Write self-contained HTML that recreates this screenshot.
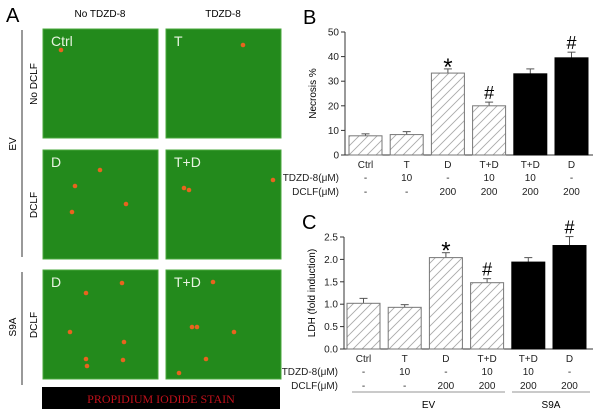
<!DOCTYPE html>
<html><head><meta charset="utf-8"><style>
body{margin:0;background:#fff;width:600px;height:415px;overflow:hidden;font-family:"Liberation Sans",sans-serif}
</style></head><body>
<svg id="fig" width="600" height="415" xmlns="http://www.w3.org/2000/svg" font-family="Liberation Sans, sans-serif">
<defs>
<pattern id="hatch" patternUnits="userSpaceOnUse" width="9" height="9" patternTransform="rotate(0)">
<rect width="9" height="9" fill="#fff"/><path d="M-1,10 L10,-1 M-3,3 L3,-3 M6,12 L12,6" stroke="#aaa" stroke-width="0.9"/>
</pattern>
</defs>
<g id="panelA">
<text x="6" y="22" font-size="20">A</text>
<text x="100" y="17" font-size="10" text-anchor="middle">No TDZD-8</text>
<text x="223" y="17" font-size="10" text-anchor="middle">TDZD-8</text>
<line x1="22" y1="30" x2="22" y2="257" stroke="#333"/>
<line x1="22" y1="272" x2="22" y2="385" stroke="#333"/>
<text transform="translate(16,144) rotate(-90)" font-size="10" text-anchor="middle">EV</text>
<text transform="translate(16,327) rotate(-90)" font-size="10" text-anchor="middle">S9A</text>
<text transform="translate(37,84) rotate(-90)" font-size="10" text-anchor="middle">No DCLF</text>
<text transform="translate(37,205) rotate(-90)" font-size="10" text-anchor="middle">DCLF</text>
<text transform="translate(37,325) rotate(-90)" font-size="10" text-anchor="middle">DCLF</text>
<rect x="42" y="387" width="238" height="22" fill="#000"/>
<text x="161" y="403" font-size="12" fill="#c0101a" text-anchor="middle" font-family="Liberation Serif, serif">PROPIDIUM IODIDE STAIN</text>
</g>
<g id="panelB"></g>
<g id="panelC"></g>
</svg>
<script>
const NS="http://www.w3.org/2000/svg";
function mk(p,t,a){const e=document.createElementNS(NS,t);for(const k in a)e.setAttribute(k,a[k]);p.appendChild(e);return e;}
// micrographs
const imgLabels=["Ctrl","T","D","T+D","D","T+D"];
const imgBoxes=[[43,29],[166,29],[43,150],[166,150],[43,270],[166,270]];
const dots=[[[18,21]],[[77,16]],[[57,20],[32,36],[83,54],[29,62]],[[18,38],[23,40],[107,30]],[[79,13],[43,23],[27,62],[81,72],[43,89],[44,96],[80,90]],[[47,12],[26,57],[31,57],[68,62],[40,89],[13,103]]];
const A=document.getElementById('panelA');
imgBoxes.forEach((b,i)=>{
 const g=mk(A,'g',{});
 
 
 const r=mk(g,'rect',{x:b[0],y:b[1],width:115,height:109,fill:'#238a1c',stroke:'#4aa83c','stroke-width':1});
 
 
 dots[i].forEach(d=>{const c=mk(g,'circle',{cx:b[0]+d[0],cy:b[1]+d[1],r:2.3,fill:'#e8641e'});
  
  });
 const t=mk(g,'text',{x:b[0]+8,y:b[1]+17,'font-size':14,fill:'#e8f4e0'});t.textContent=imgLabels[i];
 
 
});

// chart data
const categories=["Ctrl","T","D","T+D","T+D","D"];
const tdzdRow=["-","10","-","10","10","-"];
const dclfRow=["-","-","200","200","200","200"];
const necrosisValues=[7.8,8.3,33.3,20,33,39.5];
const necrosisErrors=[0.8,1.2,1.7,1.5,2,2.3];
const necrosisMarks=["","","*","#","","#"];
const necrosisTicks=[0,10,20,30,40,50];
const ldhValues=[1.02,0.93,2.04,1.48,1.94,2.31];
const ldhErrors=[0.11,0.06,0.11,0.09,0.1,0.2];
const ldhMarks=["","","*","#","","#"];
const ldhTicks=[0,0.5,1.0,1.5,2.0,2.5];
const groupLabels=["EV","S9A"];

function chart(gid,cfg){
 const G=document.getElementById(gid);
 const y=v=>cfg.y0-(v-cfg.min)/(cfg.max-cfg.min)*(cfg.y0-cfg.y1);
 const xb=i=>cfg.xs+i*41.2;
 const lbl=mk(G,'text',{x:cfg.left-42,y:cfg.y1-8,'font-size':20});lbl.textContent=cfg.label;
 
 const ax=mk(G,'line',{x1:cfg.left,y1:cfg.y1,x2:cfg.left,y2:cfg.y0,stroke:'#333'});
 
 const bx=mk(G,'line',{x1:cfg.left,y1:cfg.y0,x2:593,y2:cfg.y0,stroke:'#333'});
 
 cfg.ticks.forEach(t=>{
  const l=mk(G,'line',{x1:cfg.left-4,y1:y(t),x2:cfg.left,y2:y(t),stroke:'#333'});
  
  const tx=mk(G,'text',{x:cfg.left-6,y:y(t)+3.5,'font-size':10,'text-anchor':'end',fill:'#222'});tx.textContent=cfg.fmt(t);
  
 });
 const yt=mk(G,'text',{transform:`translate(${cfg.left-29},${(cfg.y0+cfg.y1)/2}) rotate(-90)`,'font-size':10,'text-anchor':'middle'});yt.textContent=cfg.title;
 
 cfg.values.forEach((v,i)=>{
  const x=xb(i),w=33,top=y(v),et=y(v+cfg.errors[i]);
  const e=mk(G,'line',{x1:x+w/2,y1:et,x2:x+w/2,y2:top,stroke:'#555'});
  
  const ec=mk(G,'line',{x1:x+w/2-4,y1:et,x2:x+w/2+4,y2:et,stroke:'#555'});
  
  const r=mk(G,'rect',{x:x,y:top,width:w,height:cfg.y0-top,fill:i<4?'url(#hatch)':'#000',stroke:i<4?'#777':'#000'});
  
  if(cfg.marks[i]){const m=mk(G,'text',{x:x+w/2,y:et-3+(cfg.marks[i]=='*'?9:0),'font-size':cfg.marks[i]=='*'?24:18,'text-anchor':'middle'});m.textContent=cfg.marks[i];
   }
  [[categories[i],0],[tdzdRow[i],13],[dclfRow[i],27]].forEach(([s,dy])=>{
   const t=mk(G,'text',{x:x+w/2,y:cfg.y0+13+dy,'font-size':10,'text-anchor':'middle',fill:'#222'});t.textContent=s;
   
  });
 });
 [["TDZD-8(μM)",13],["DCLF(μM)",27]].forEach(([s,dy])=>{
  const t=mk(G,'text',{x:cfg.left-6,y:cfg.y0+13+dy,'font-size':10,'text-anchor':'end',fill:'#222'});t.textContent=s;
  
 });
 return {y,xb};
}
chart('panelB',{label:'B',left:345,xs:349,y0:155,y1:32,min:0,max:50,ticks:necrosisTicks,values:necrosisValues,errors:necrosisErrors,marks:necrosisMarks,title:'Necrosis %',fmt:t=>t});
const c=chart('panelC',{label:'C',left:344,xs:347,y0:349,y1:237,min:0,max:2.5,ticks:ldhTicks,values:ldhValues,errors:ldhErrors,marks:ldhMarks,title:'LDH (fold induction)',fmt:t=>t.toFixed(1)});
const C=document.getElementById('panelC');
[[352,505,0],[512,590,1]].forEach(([a,b,k])=>{
 const l=mk(C,'line',{x1:a,y1:392,x2:b,y2:392,stroke:'#aaa','stroke-width':1.2});
 
 const t=mk(C,'text',{x:(a+b)/2,y:408,'font-size':10,'text-anchor':'middle'});t.textContent=groupLabels[k];
 
});
</script>
</body></html>
